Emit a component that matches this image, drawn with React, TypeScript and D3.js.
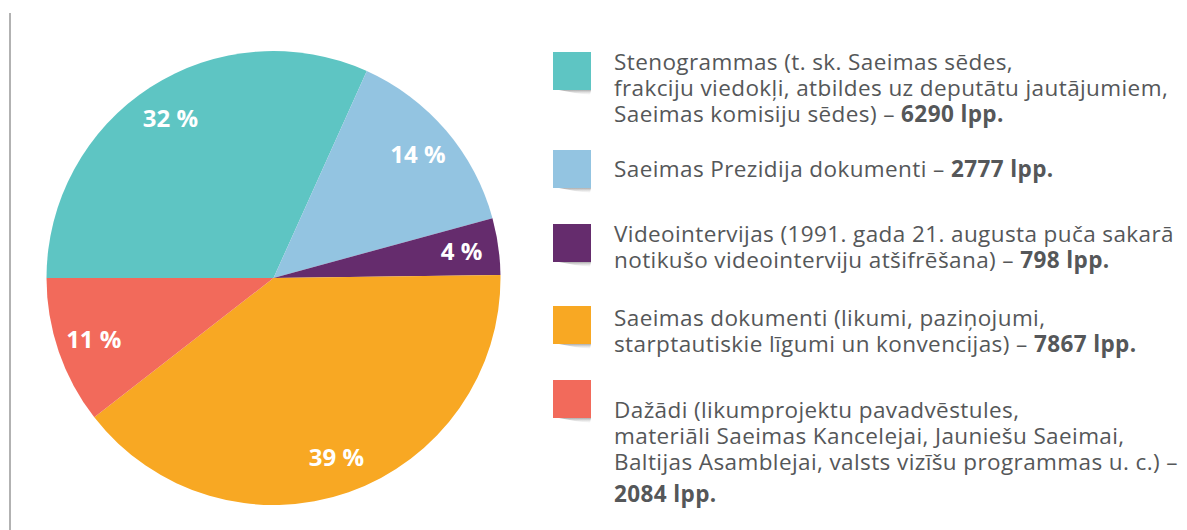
import React from "react";
import * as d3 from "d3";

const categories = [
  "Stenogrammas",
  "Saeimas Prezidija dokumenti",
  "Videointervijas",
  "Saeimas dokumenti",
  "Dažādi",
];
const pages = [6290, 2777, 798, 7867, 2084];
const percentLabels = ["32 %", "14 %", "4 %", "39 %", "11 %"];
const colors = ["#5EC5C3", "#93C4E1", "#652C6D", "#F8A823", "#F26A5B"];

// legend text lines: [normal text, bold text]
const legendLines: [string, string][][] = [
  [
    ["Stenogrammas (t. sk. Saeimas sēdes,", ""],
    ["frakciju viedokļi, atbildes uz deputātu jautājumiem,", ""],
    ["Saeimas komisiju sēdes) – ", "6290 lpp."],
  ],
  [["Saeimas Prezidija dokumenti – ", "2777 lpp."]],
  [
    ["Videointervijas (1991. gada 21. augusta puča sakarā", ""],
    ["notikušo videointerviju atšifrēšana) – ", "798 lpp."],
  ],
  [
    ["Saeimas dokumenti (likumi, paziņojumi,", ""],
    ["starptautiskie līgumi un konvencijas) – ", "7867 lpp."],
  ],
  [
    ["Dažādi (likumprojektu pavadvēstules,", ""],
    ["materiāli Saeimas Kancelejai, Jauniešu Saeimai,", ""],
    ["Baltijas Asamblejai, valsts vizīšu programmas u. c.) –", ""],
    ["", "2084 lpp."],
  ],
];
const legendSquareY = [52, 150, 224, 306, 380];
const legendBaselines = [
  [70, 96, 122],
  [177],
  [242, 268],
  [326, 352],
  [418, 444, 470, 502],
];

const W = 1187;
const H = 530;
const cx = 273.5;
const cy = 278;
const R = 227;
const labelR = 190;
const FONT = "'Open Sans', 'Noto Sans', sans-serif";

export default function App() {
  const pie = d3
    .pie<number>()
    .sort(null)
    .startAngle(-Math.PI / 2)
    .endAngle((3 * Math.PI) / 2)
    .value((d) => d);
  const arcs = pie(pages);
  const arcGen = d3.arc<d3.PieArcDatum<number>>().innerRadius(0).outerRadius(R);
  const labelArc = d3
    .arc<d3.PieArcDatum<number>>()
    .innerRadius(labelR)
    .outerRadius(labelR);

  return (
    <svg
      width={W}
      height={H}
      style={{ position: "absolute", left: 0, top: 0, background: "#fff" }}
      fontFamily={FONT}
    >
      <defs>
        <linearGradient id="shadow" x1="0" y1="0" x2="0" y2="1">
          <stop offset="0" stopColor="#888" stopOpacity="0.7" />
          <stop offset="1" stopColor="#ccc" stopOpacity="0" />
        </linearGradient>
      </defs>
      <line x1={10} x2={10} y1={13} y2={H} stroke="#b2b2b2" strokeWidth={2} />
      <g transform={`translate(${cx},${cy})`}>
        {arcs.map((a, i) => (
          <path key={categories[i]} d={arcGen(a) || ""} fill={colors[i]} />
        ))}
        {arcs.map((a, i) => {
          const [x, y] = labelArc.centroid(a);
          return (
            <text
              key={"l" + i}
              x={x}
              y={y}
              dy="0.36em"
              textAnchor="middle"
              fill="#fff"
              fontWeight="bold"
              fontSize={24}
            >
              {percentLabels[i]}
            </text>
          );
        })}
      </g>
      {categories.map((c, i) => {
        const x = 553;
        const y = legendSquareY[i];
        const s = 38;
        return (
          <g key={"leg" + c}>
            <path
              d={`M${x + 6},${y + s} L${x + s},${y + s} L${x + s - 1},${y + s + 5} Q${x + 20},${y + s + 3} ${x + 6},${y + s} Z`}
              fill="url(#shadow)"
            />
            <rect x={x} y={y} width={s} height={s} fill={colors[i]} />
            <text fontSize={22.5} letterSpacing={0.4} fill="#555759">
              {legendLines[i].map((ln, j) => (
                <tspan key={j} x={614} y={legendBaselines[i][j]}>
                  {ln[0]}
                  {ln[1] && <tspan fontWeight="bold">{ln[1]}</tspan>}
                </tspan>
              ))}
            </text>
          </g>
        );
      })}
    </svg>
  );
}
